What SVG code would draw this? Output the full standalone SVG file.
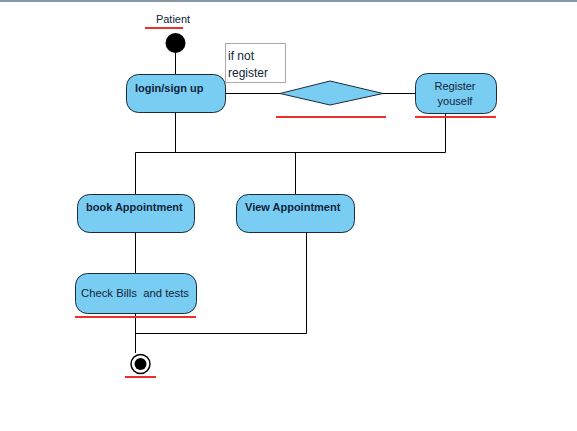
<svg xmlns="http://www.w3.org/2000/svg" width="577" height="431" viewBox="0 0 577 431">
<style>
.node{fill:#79cdf2;stroke:#1b2b3b;stroke-width:1}
.lbl{font-family:"Liberation Sans",Arial,sans-serif;font-size:11px;fill:#10243a}
.b{font-weight:bold}
.red{stroke:#e8302c;stroke-width:2}
.con{stroke:#000;stroke-width:1;fill:none}
</style>
<rect x="0" y="0" width="577" height="431" fill="#fff"/>
<rect x="0" y="0" width="577" height="2" fill="#8796a6"/>
<g id="connectors">
<path class="con" d="M175.5 53V74M225 93.5H280M383 93.5H415M175.5 112V152.5M445.5 113V152.5M135.5 152.5H445.5M135.5 152.5V194M295.5 152.5V194M135.5 232V273M135.5 313V353M306.5 232V333.5H135.5"/>
</g>
<g id="patient">
<text class="lbl" x="173" y="23" text-anchor="middle">Patient</text>
<line class="red" x1="145" y1="28" x2="183" y2="28"/>
</g>
<g id="start"><circle cx="175.5" cy="43" r="10" fill="#000"/></g>
<g id="login">
<rect class="node" x="126.5" y="74.5" width="99" height="38" rx="12"/>
<text class="lbl b" x="135" y="92">login/sign up</text>
</g>
<g id="note">
<rect x="225.5" y="43.5" width="60" height="39" fill="#fff" stroke="#aaa"/>
<text class="lbl" x="228" y="60" style="font-size:12px">if not</text>
<text class="lbl" x="228" y="77" style="font-size:12px">register</text>
</g>
<g id="decision">
<polygon class="node" points="280,93.5 330,81 383,93.5 330,105"/>
<line class="red" x1="276" y1="117" x2="386" y2="117"/>
</g>
<g id="register">
<rect class="node" x="415.5" y="73.5" width="81" height="40" rx="12"/>
<text class="lbl" x="455" y="90" text-anchor="middle">Register</text>
<text class="lbl" x="455" y="105" text-anchor="middle">youself</text>
<line class="red" x1="415" y1="117" x2="496" y2="117"/>
</g>
<g id="book">
<rect class="node" x="77.5" y="194.5" width="117" height="38" rx="12"/>
<text class="lbl b" x="86" y="211">book Appointment</text>
</g>
<g id="view">
<rect class="node" x="236.5" y="194.5" width="118" height="38" rx="12"/>
<text class="lbl b" x="245" y="211">View Appointment</text>
</g>
<g id="check">
<rect class="node" x="75.5" y="273.5" width="121" height="40" rx="12"/>
<text class="lbl" x="81" y="297" style="white-space:pre;font-size:11.3px" xml:space="preserve">Check Bills  and tests</text>
<line class="red" x1="75" y1="317" x2="196" y2="317"/>
</g>
<g id="end">
<circle cx="140.5" cy="364" r="9.5" fill="#fff" stroke="#000" stroke-width="1.5"/>
<circle cx="140.5" cy="364" r="6" fill="#000"/>
<line class="red" x1="125" y1="377" x2="156" y2="377"/>
</g>
</svg>
